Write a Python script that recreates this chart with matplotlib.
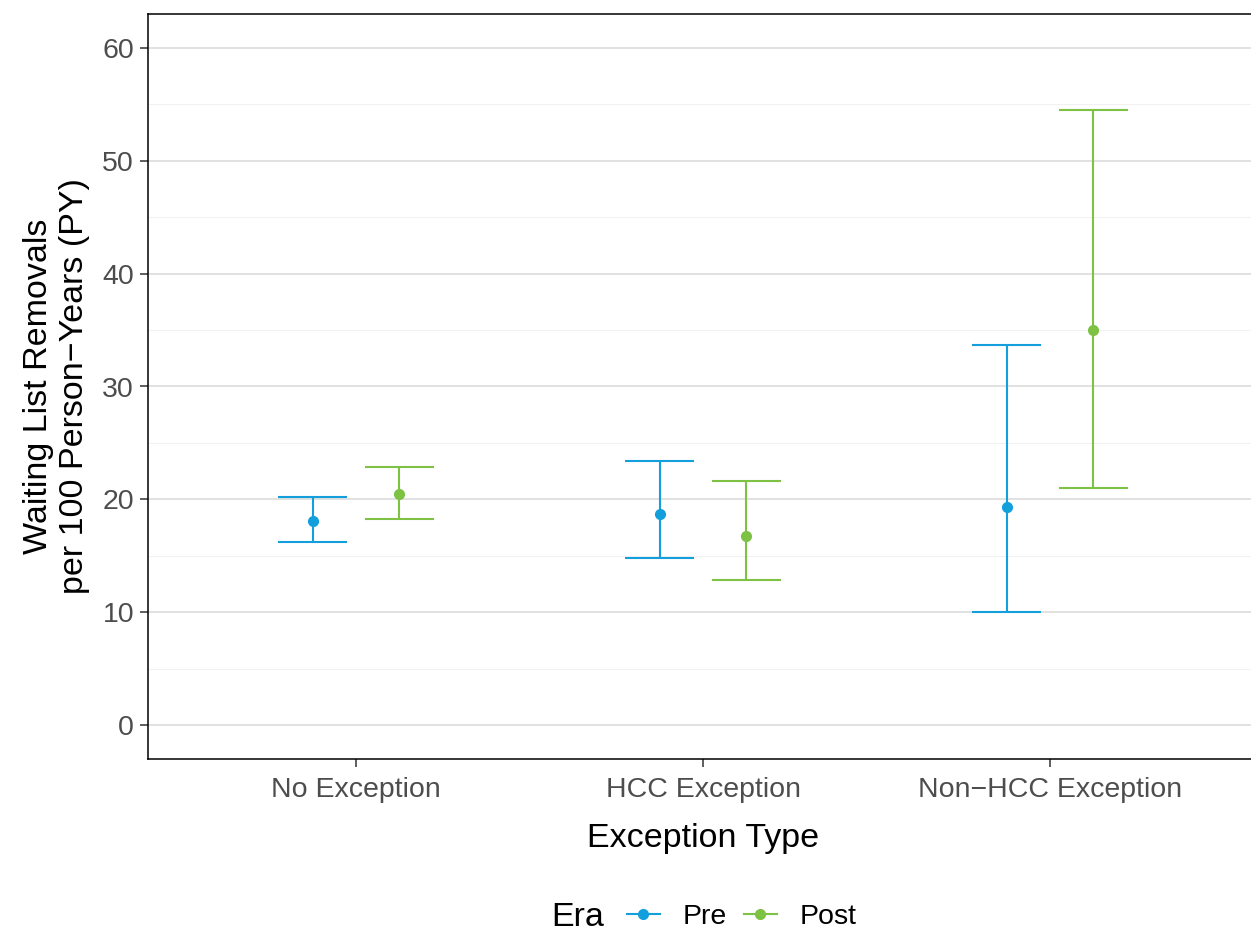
import numpy as np
import matplotlib.pyplot as plt
from matplotlib.lines import Line2D

# Rates per 100 person-years with 95% CI
categories = ['No Exception', 'HCC Exception', 'Non\u2212HCC Exception']
eras = ['Pre', 'Post']
pre_rate = [18.1, 18.7, 19.3]
pre_low = [16.2, 14.8, 10.0]
pre_high = [20.2, 23.4, 33.7]
post_rate = [20.5, 16.8, 35.0]
post_low = [18.3, 12.9, 21.0]
post_high = [22.9, 21.6, 54.5]

colors = {'Pre': '#139FDC', 'Post': '#7DC242'}

plt.rcParams['font.family'] = ['Liberation Sans', 'DejaVu Sans']

fig = plt.figure(figsize=(12.51, 9.30), dpi=100)
# panel runs a little past the right edge of the image
ax = fig.add_axes([148 / 1251, 1 - 759 / 930, 1110 / 1251, (759 - 14) / 930])

x = np.arange(1, len(categories) + 1)
dodge = 0.125
series = {
    'Pre': (pre_rate, pre_low, pre_high, -dodge),
    'Post': (post_rate, post_low, post_high, dodge),
}
for era in eras:
    rate, low, high, off = series[era]
    rate = np.array(rate)
    yerr = [rate - np.array(low), np.array(high) - rate]
    ax.errorbar(x + off, rate, yerr=yerr, fmt='o', color=colors[era],
                ecolor=colors[era], elinewidth=1.5, capsize=0, markersize=7,
                zorder=3)
    # caps drawn as lines so their width is in data units
    ax.hlines(low, x + off - 0.1, x + off + 0.1, color=colors[era], lw=1.5, zorder=3)
    ax.hlines(high, x + off - 0.1, x + off + 0.1, color=colors[era], lw=1.5, zorder=3)

ax.set_xlim(0.4, 3.6)
ax.set_ylim(-3, 63)
ax.set_xticks(x)
ax.set_xticklabels(categories)
ax.set_yticks(np.arange(0, 61, 10))
ax.set_yticks(np.arange(5, 60, 10), minor=True)
ax.grid(axis='y', which='major', color='#D9D9D9', lw=1.1)
ax.grid(axis='y', which='minor', color='#EFEFEF', lw=0.6)
ax.set_axisbelow(True)
ax.tick_params(axis='both', which='major', labelsize=20.5, labelcolor='#4D4D4D',
               color='#333333', length=6, width=1.1, pad=4)
ax.tick_params(axis='x', which='major', pad=7)
ax.tick_params(axis='y', which='minor', length=0)
for side in ['left', 'bottom', 'top']:
    ax.spines[side].set_color('black')
    ax.spines[side].set_linewidth(1.1)
ax.spines['right'].set_visible(False)

ax.set_xlabel('Exception Type', fontsize=24.5, labelpad=14)
ax.set_ylabel('Waiting List Removals\nper 100 Person\u2212Years (PY)', fontsize=24.5,
              labelpad=9, linespacing=1.2)

fig.text(551 / 1251, 13 / 930, 'Era', fontsize=24.5, va='center', ha='left')
handles = [Line2D([], [], color=colors[e], marker='o', markersize=7, lw=1.5) for e in eras]
fig.legend(handles, eras, loc='center left', bbox_to_anchor=(627 / 1251, 13 / 930),
           ncol=2, frameon=False, fontsize=20.5, handlelength=1.15,
           handletextpad=0.8, columnspacing=0.6, borderaxespad=0, borderpad=0)

fig.savefig('out.png', dpi=100)
